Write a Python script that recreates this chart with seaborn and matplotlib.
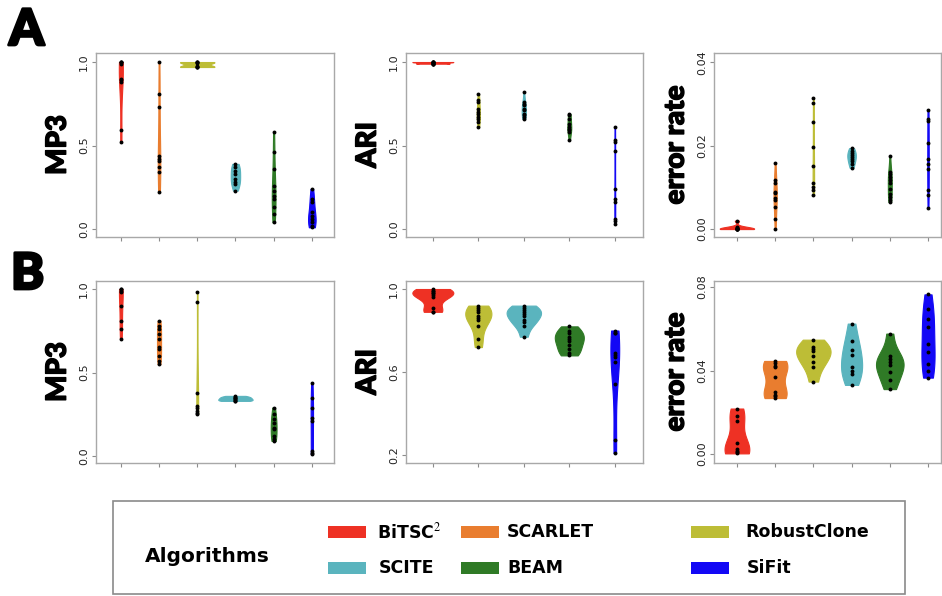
# Violin plots of MP3 / ARI / error rate for six tumour-phylogeny tools,
# two simulation settings (A and B), with a boxed legend underneath.

import numpy as np
import pandas as pd
import seaborn as sns
import matplotlib.pyplot as plt
import matplotlib.patheffects as pe
from matplotlib.patches import Rectangle

algorithms = ['BiTSC2', 'SCARLET', 'RobustClone', 'SCITE', 'BEAM', 'SiFit']
legend_labels = [r'BiTSC$^{2}$', 'SCARLET', 'RobustClone', 'SCITE', 'BEAM', 'SiFit']
colors = ['#ee3124', '#e97d2f', '#bdbd36', '#5ab4be', '#2f7a26', '#1308f5']
ari_algorithms = ['BiTSC2', 'RobustClone', 'SCITE', 'BEAM', 'SiFit']

# ---- panel A values ----
a_mp3 = [
    [1.0, 1.0, 1.0, 0.99, 0.9, 0.89, 0.88, 0.59, 0.52],
    [1.0, 0.81, 0.73, 0.44, 0.42, 0.41, 0.37, 0.34, 0.22],
    [1.0, 1.0, 1.0, 0.995, 0.975, 0.97, 0.97, 0.97],
    [0.39, 0.37, 0.35, 0.33, 0.3, 0.28, 0.27, 0.23],
    [0.58, 0.46, 0.36, 0.26, 0.23, 0.2, 0.18, 0.13, 0.09, 0.04],
    [0.24, 0.18, 0.16, 0.1, 0.08, 0.06, 0.04, 0.02, 0.01],
]
a_ari = [
    [1.0, 1.0, 0.995, 0.99, 0.99, 1.0, 1.0, 0.99, 1.0, 0.99],
    [0.81, 0.77, 0.76, 0.72, 0.7, 0.69, 0.67, 0.66, 0.64, 0.61],
    [0.82, 0.76, 0.75, 0.74, 0.72, 0.71, 0.69, 0.68, 0.67, 0.66],
    [0.69, 0.68, 0.66, 0.63, 0.61, 0.6, 0.59, 0.58, 0.53],
    [0.61, 0.53, 0.52, 0.47, 0.24, 0.18, 0.16, 0.06, 0.05, 0.03],
]
a_err = [
    [0.002, 0.0005, 0.0003, 0.0002, 0.0001, 0.0, 0.0, 0.0, 0.0, 0.0],
    [0.0158, 0.0117, 0.011, 0.0088, 0.0086, 0.0075, 0.0069, 0.0053, 0.0025, 0.0],
    [0.0314, 0.0302, 0.0256, 0.0197, 0.0151, 0.011, 0.0101, 0.0093, 0.0081],
    [0.0194, 0.0188, 0.0182, 0.0178, 0.0173, 0.0168, 0.0163, 0.0155, 0.0147],
    [0.0174, 0.0137, 0.0133, 0.0126, 0.0118, 0.011, 0.0097, 0.0085, 0.0078, 0.007, 0.0065],
    [0.0286, 0.0265, 0.0259, 0.0206, 0.0169, 0.0157, 0.0145, 0.0093, 0.0081, 0.005],
]

# ---- panel B values ----
b_mp3 = [
    [1.0, 1.0, 0.99, 0.98, 0.9, 0.81, 0.76, 0.7],
    [0.81, 0.78, 0.76, 0.73, 0.7, 0.65, 0.64, 0.6, 0.57, 0.55],
    [0.98, 0.92, 0.38, 0.3, 0.29, 0.27, 0.26, 0.25],
    [0.36, 0.355, 0.35, 0.345, 0.34, 0.335, 0.33, 0.33],
    [0.29, 0.25, 0.22, 0.2, 0.17, 0.16, 0.12, 0.1, 0.09],
    [0.44, 0.35, 0.29, 0.23, 0.21, 0.03, 0.02, 0.01],
]
b_ari = [
    [1.0, 0.99, 0.99, 0.98, 0.98, 0.97, 0.96, 0.91, 0.89, 0.89],
    [0.92, 0.91, 0.9, 0.89, 0.87, 0.86, 0.85, 0.82, 0.76, 0.72],
    [0.92, 0.91, 0.9, 0.89, 0.88, 0.87, 0.85, 0.84, 0.82, 0.77],
    [0.82, 0.8, 0.79, 0.77, 0.76, 0.75, 0.73, 0.71, 0.69, 0.68],
    [0.8, 0.79, 0.79, 0.69, 0.68, 0.67, 0.65, 0.54, 0.27, 0.21],
]
b_err = [
    [0.0218, 0.0183, 0.016, 0.0051, 0.0024, 0.0013, 0.0008, 0.0003],
    [0.0446, 0.0438, 0.0422, 0.0415, 0.037, 0.0298, 0.0285, 0.0279, 0.0268],
    [0.0548, 0.0513, 0.0505, 0.0494, 0.047, 0.0443, 0.0418, 0.0347],
    [0.0625, 0.0542, 0.0499, 0.0475, 0.0418, 0.04, 0.0382, 0.0331],
    [0.0577, 0.047, 0.0453, 0.044, 0.0427, 0.0394, 0.0354, 0.0311],
    [0.0765, 0.0693, 0.0645, 0.0609, 0.0529, 0.0491, 0.0433, 0.0398, 0.0366],
]

palette = dict(zip(algorithms, colors))
HEAVY = ['Lato', 'DejaVu Sans']


def draw_panel(ax, names, values, ylabel, xlim, ylim, yticks, ylabels):
    df = pd.DataFrame({'algorithm': np.repeat(names, [len(v) for v in values]),
                       'value': np.concatenate(values)})
    sns.violinplot(data=df, x='algorithm', y='value', hue='algorithm',
                   order=names, hue_order=names, palette=palette,
                   inner=None, cut=0, width=0.9, density_norm='area',
                   common_norm=True, saturation=1, linewidth=0.8,
                   legend=False, ax=ax)
    # no dark outline: edge in the fill colour so thin violins show as lines
    for c in ax.collections:
        c.set_edgecolor(c.get_facecolor())
    sns.stripplot(data=df, x='algorithm', y='value', order=names,
                  jitter=False, color='black', size=2.8, ax=ax)

    ax.set_xlim(*xlim)
    ax.set_ylim(*ylim)
    ax.set_xticks(range(len(names)))
    ax.set_xticklabels([])
    ax.set_xlabel('')
    ax.set_yticks(yticks)
    ax.set_yticklabels(ylabels, rotation=90, va='center')
    lab = ax.set_ylabel(ylabel, fontsize=20, fontweight='black', family=HEAVY,
                        color='black', labelpad=6)
    lab.set_path_effects([pe.withStroke(linewidth=1.0, foreground='black')])
    ax.tick_params(bottom=True, left=True, length=3, width=0.8,
                   color='#8c8c8c', labelsize=8, labelcolor='#222222', pad=2)
    for sp in ax.spines.values():
        sp.set_color('#a8a8a8')
        sp.set_linewidth(1.0)


sns.set_theme(style='white')
plt.rcParams['font.family'] = ['DejaVu Sans']
plt.rcParams['mathtext.fontset'] = 'stix'

fig = plt.figure(figsize=(9.42, 5.96), dpi=100)
W, H = 942.0, 596.0


def add_axes(x0, y0, x1, y1):
    return fig.add_axes([x0 / W, 1 - y1 / H, (x1 - x0) / W, (y1 - y0) / H])


rows = [(53, 237), (281, 463)]
cols = [(96, 334), (406, 643), (714, 941)]
xlims = [(-0.65, 5.58), (-0.59, 4.62), (-0.60, 5.34)]

# row A
ax = add_axes(cols[0][0], rows[0][0], cols[0][1], rows[0][1])
draw_panel(ax, algorithms, a_mp3, 'MP3', xlims[0], (-0.048, 1.054),
           [0, 0.5, 1.0], ['0.0', '0.5', '1.0'])
ax = add_axes(cols[1][0], rows[0][0], cols[1][1], rows[0][1])
draw_panel(ax, ari_algorithms, a_ari, 'ARI', xlims[1], (-0.048, 1.054),
           [0, 0.5, 1.0], ['0.0', '0.5', '1.0'])
ax = add_axes(cols[2][0], rows[0][0], cols[2][1], rows[0][1])
draw_panel(ax, algorithms, a_err, 'error rate', xlims[2], (-0.0019, 0.0422),
           [0, 0.02, 0.04], ['0.00', '0.02', '0.04'])

# row B
ax = add_axes(cols[0][0], rows[1][0], cols[0][1], rows[1][1])
draw_panel(ax, algorithms, b_mp3, 'MP3', xlims[0], (-0.042, 1.048),
           [0, 0.5, 1.0], ['0.0', '0.5', '1.0'])
ax = add_axes(cols[1][0], rows[1][0], cols[1][1], rows[1][1])
draw_panel(ax, ari_algorithms, b_ari, 'ARI', xlims[1], (0.1614, 1.0386),
           [0.2, 0.6, 1.0], ['0.2', '0.6', '1.0'])
ax = add_axes(cols[2][0], rows[1][0], cols[2][1], rows[1][1])
draw_panel(ax, algorithms, b_err, 'error rate', xlims[2], (-0.0043, 0.0829),
           [0, 0.04, 0.08], ['0.00', '0.04', '0.08'])

# panel letters
for letter, lx, ly in [('A', 9, 45), ('B', 11, 289)]:
    t = fig.text(lx / W, 1 - ly / H, letter, fontsize=36, fontweight='black',
                 family=HEAVY, color='black', va='baseline', ha='left')
    t.set_path_effects([pe.withStroke(linewidth=2.0, foreground='black')])

# legend box
fig.patches.append(Rectangle((113 / W, 1 - 594 / H), (905 - 113) / W,
                             (594 - 501) / H, transform=fig.transFigure,
                             facecolor='white', edgecolor='#8a8a8a',
                             linewidth=1.2))
fig.text(145 / W, 1 - 556 / H, 'Algorithms', fontsize=14.5, fontweight='bold',
         family=['DejaVu Sans'], color='black', va='center', ha='left')

patch_x = [328, 461, 691, 328, 461, 691]
text_x = [377, 507, 745, 379, 507, 747]
row_y = [532, 532, 532, 568, 568, 568]
for lab, col, px, tx, ry in zip(legend_labels, colors, patch_x, text_x, row_y):
    fig.patches.append(Rectangle((px / W, 1 - (ry + 6) / H), 38 / W, 12 / H,
                                 transform=fig.transFigure, facecolor=col,
                                 edgecolor='none'))
    fig.text(tx / W, 1 - ry / H, lab, fontsize=12.5, fontweight='bold',
             family=['DejaVu Sans'], color='black', va='center', ha='left')

fig.savefig('out.png', dpi=100)
